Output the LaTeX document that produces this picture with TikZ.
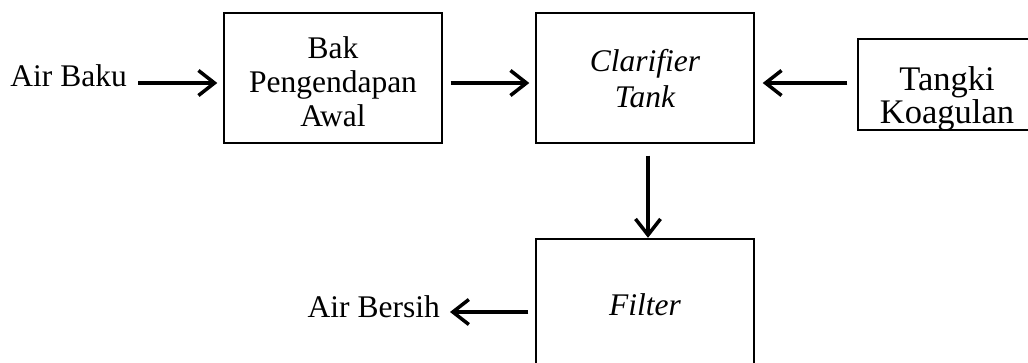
\documentclass[tikz,border=0pt]{standalone}
\usepackage{fontspec}
\setmainfont{Liberation Serif}
\usetikzlibrary{arrows.meta}
\begin{document}
\begin{tikzpicture}[x=1pt,y=-1pt,
  box/.style={draw, line width=1.4pt, minimum width=218pt, minimum height=130pt, inner sep=0pt},
  lbl/.style={inner sep=0pt, align=center, font=\fontsize{31.5}{34}\selectfont},
  itlbl/.style={inner sep=0pt, align=center, font=\fontsize{31.5}{35.5}\selectfont\itshape},
  widelbl/.style={inner sep=0pt, align=center, font=\fontsize{34.5}{33}\selectfont},
  flow/.style={line width=3.5pt, -{Straight Barb[length=16pt,width=25pt]}}]
\useasboundingbox (0,0) rectangle (1028,363);
\clip (0,0) rectangle (1028,363);

% process boxes
\node[box] (bak) at (333,78) {};
\node[lbl] (baktxt) at (333,82) {Bak\\Pengendapan\\Awal};
\node[box] (clar) at (645,78) {};
\node[itlbl] (clartxt) at (645,78.5) {Clarifier\\Tank};
\node[box, minimum width=190pt, minimum height=91pt] (tangki) at (953,84.5) {};
\node[widelbl] (tangkitxt) at (947,99) {Tangki\\Koagulan};
\node[box] (filter) at (645,304) {};
\node[itlbl] (filtertxt) at (645,305) {Filter};

% inlet and outlet labels
\node[lbl, anchor=base east] (baku) at (127,87) {Air Baku};
\node[lbl, anchor=base east] (bersih) at (440,318) {Air Bersih};

% flow arrows
\coordinate (row) at (0,83);
\coordinate (outrow) at (0,312);
\draw[flow, shorten <=11pt, shorten >=6pt] (baku.east |- row) -- (bak.west |- row);
\draw[flow, shorten <=8pt, shorten >=6pt] (bak.east |- row) -- (clar.west |- row);
\draw[flow, shorten <=10pt, shorten >=8pt] (tangki.west |- row) -- (clar.east |- row);
\draw[flow, shorten <=12pt, shorten >=0.5pt] ([xshift=3pt]clar.south) -- ([xshift=3pt]filter.north);
\draw[flow, shorten <=7pt, shorten >=10pt] (filter.west |- outrow) -- (bersih.east |- outrow);
\end{tikzpicture}
\end{document}
